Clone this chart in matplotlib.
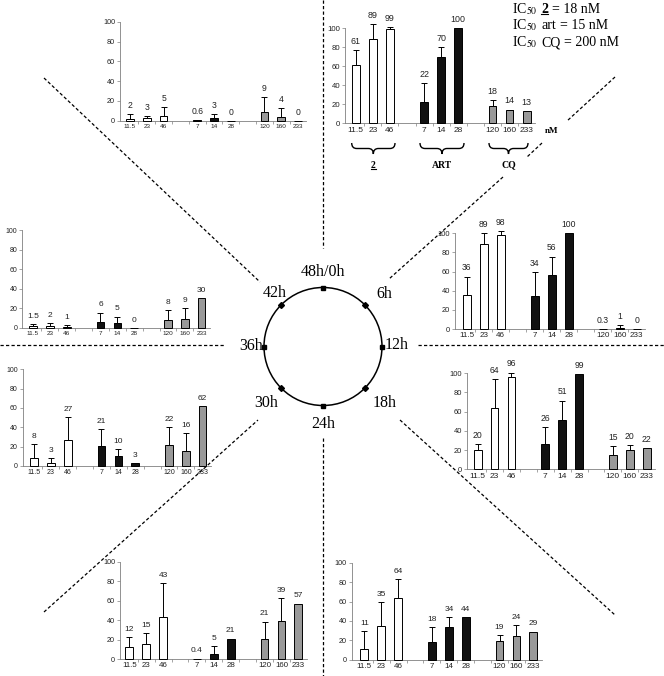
import numpy as np
import matplotlib
matplotlib.use('Agg')
import matplotlib.pyplot as plt
from matplotlib.path import Path
from matplotlib.patches import PathPatch, Circle

plt.rcParams['mathtext.fontset'] = 'stix'
SANS = 'Liberation Sans'
SERIF = 'Liberation Serif'

# ---------------- data ----------------
conc_labels = ['11.5', '23', '46', '7', '14', '28', '120', '160', '233']
drug_labels = ['2', 'ART', 'CQ']
bar_colors = ['white'] * 3 + ['#111111'] * 3 + ['#999999'] * 3

v_0h = [61, 89, 99, 22, 70, 100, 18, 14, 13]
e_0h = [16, 15.5, 2, 20, 10.6, 0, 6.5, 0.5, 0]
v_6h = [36, 89, 98, 34, 56, 100, 0.3, 1, 0]
e_6h = [18.7, 11, 4.4, 25.6, 19.6, 0, 0, 3, 0]
v_12h = [20, 64, 96, 26, 51, 99, 15, 20, 22]
e_12h = [6.4, 29.8, 4.7, 17.8, 20.5, 0, 9.3, 5.3, 0]
v_18h = [11, 35, 64, 18, 34, 44, 19, 24, 29]
e_18h = [18.9, 24.2, 18.9, 16, 10.3, 0, 6.5, 11.8, 0]
v_24h = [12, 15, 43, 0.4, 5, 21, 21, 39, 57]
e_24h = [10.9, 12, 34.8, 0, 8.7, 0, 17.4, 24, 0]
v_30h = [8, 3, 27, 21, 10, 3, 22, 16, 62]
e_30h = [14.8, 5, 23.3, 16.9, 7.2, 0, 18, 17.8, 0]
v_36h = [1.5, 2, 1, 6, 5, 0, 8, 9, 30]
e_36h = [2, 3, 2, 9.4, 6.3, 0, 10, 10.8, 0]
v_42h = [2, 3, 5, 0.6, 3, 0, 9, 4, 0]
e_42h = [4.8, 1.7, 8.5, 0, 3.8, 0, 15, 8.5, 0]

hour_labels = ['48h/0h', '6h', '12h', '18h', '24h', '30h', '36h', '42h']
ic50_lines = [('2', '= 18 nM'), ('art', '= 15 nM'), ('CQ', '= 200 nM')]

# ---------------- layout ----------------
W, H = 664, 676
fig = plt.figure(figsize=(W / 100, H / 100), dpi=100)
bg = fig.add_axes([0, 0, 1, 1], zorder=0)
bg.set_xlim(0, W)
bg.set_ylim(H, 0)
bg.axis('off')

positions = [0, 1, 2, 4, 5, 6, 8, 9, 10]

# axis_x, y100, y0, p0, spacing, xtick fs, ytick fs, value fs
specs = {
    '0h': (345, 28.3, 123.3, 355.7, 17.1, 6.0, 5.6, 6.4),
    '6h': (455, 233.3, 329, 466.7, 17.0, 5.8, 5.4, 6.2),
    '12h': (466.7, 373.3, 469.3, 477.7, 16.9, 6.0, 5.4, 6.2),
    '18h': (351.7, 562.7, 659.7, 364.3, 16.9, 5.8, 5.2, 6.0),
    '24h': (120, 561.7, 659, 129.3, 16.9, 5.7, 5.2, 6.0),
    '30h': (22.7, 369.3, 466, 34, 16.87, 5.0, 5.0, 6.0),
    '36h': (22, 230, 327.7, 33, 16.87, 4.6, 5.0, 6.0),
    '42h': (120, 21.7, 120.7, 130, 16.8, 4.6, 5.2, 6.2),
}
panel_data = {
    '0h': (v_0h, e_0h), '6h': (v_6h, e_6h), '12h': (v_12h, e_12h),
    '18h': (v_18h, e_18h), '24h': (v_24h, e_24h), '30h': (v_30h, e_30h),
    '36h': (v_36h, e_36h), '42h': (v_42h, e_42h),
}


def fmt(v):
    return str(int(v)) if float(v).is_integer() else str(v)


def draw_panel(vals, errs, spec):
    ax_x, y100, y0, p0, s, xfs, yfs, vfs = spec
    xl = (ax_x - p0) / s
    xr = 10.5
    ax = fig.add_axes([ax_x / W, 1 - y0 / H, (xr - xl) * s / W, (y0 - y100) / H], zorder=2)
    ax.patch.set_alpha(0)
    bars = ax.bar(positions, vals, width=0.45, color=bar_colors, edgecolor='black',
                  linewidth=0.7, zorder=3)
    for b in bars:
        b.set_clip_on(False)
    for x, v, e in zip(positions, vals, errs):
        if e > 0:
            eb = ax.errorbar(x, v, yerr=[[0], [e]], fmt='none', ecolor='black',
                             elinewidth=0.7, capsize=2.3, capthick=0.7, zorder=4)
            for art in eb.lines[1] + eb.lines[2]:
                art.set_clip_on(False)
        ax.annotate(fmt(v), (x, v + e), xytext=(0, 3.0), textcoords='offset points',
                    ha='center', va='bottom', fontsize=vfs, family=SANS,
                    color='#222222', annotation_clip=False)
    ax.set_xlim(xl, xr)
    ax.set_ylim(0, 100)
    for sp in ['top', 'right']:
        ax.spines[sp].set_visible(False)
    for sp in ['left', 'bottom']:
        ax.spines[sp].set_color('#808080')
        ax.spines[sp].set_linewidth(0.6)
    ax.set_yticks(np.arange(0, 101, 20))
    ax.set_xticks(positions)
    ax.set_xticklabels(conc_labels)
    ax.set_xticks([p + 0.5 for p in range(10)], minor=True)
    ax.tick_params(axis='y', length=2, width=0.5, color='#808080', pad=1.5,
                   labelsize=yfs)
    ax.tick_params(axis='x', which='major', length=0, pad=2.5, labelsize=xfs)
    ax.tick_params(axis='x', which='minor', length=2, width=0.5, color='#808080')
    for lab in ax.get_xticklabels() + ax.get_yticklabels():
        lab.set_family(SANS)
        lab.set_color('#222222')
    return ax


for key in specs:
    vals, errs = panel_data[key]
    draw_panel(vals, errs, specs[key])

# ---------------- dashed spokes ----------------
dash = dict(color='black', lw=0.9, linestyle=(0, (2.6, 1.8)), zorder=1)
spokes = [
    [(323, 0), (323, 248)],
    [(323, 438), (323, 676)],
    [(0, 345), (225, 345)],
    [(418, 345), (664, 345)],
    [(44, 78), (260, 282)],
    [(44, 612), (258, 420)],
    [(400, 420), (615, 615)],
    [(615, 77), (567, 121)],
    [(542, 143), (527, 157)],
    [(503, 177), (389, 279)],
]
for (x1, y1), (x2, y2) in spokes:
    bg.plot([x1, x2], [y1, y2], **dash)

# ---------------- clock ----------------
cx, cy, r = 323, 346.5, 59
bg.add_patch(Circle((cx, cy), r, fill=False, lw=1.1, color='black', zorder=3))
for k in range(8):
    ang = np.deg2rad(90 - 45 * k)
    mx, my = cx + r * np.cos(ang), cy - r * np.sin(ang)
    bg.plot(mx, my, marker='s' if k % 2 == 0 else 'D', ms=3.2 if k % 2 == 0 else 3.0,
            color='black', zorder=4)

label_pos = [(323, 272.5, 'center'), (376, 294.5, 'left'), (385, 345, 'left'),
             (373, 403, 'left'), (323, 424, 'center'), (278, 403, 'right'),
             (263, 346, 'right'), (287, 293, 'right')]
for txt, (x, y, ha) in zip(hour_labels, label_pos):
    bg.text(x, y, txt, ha=ha, va='center', fontsize=11.5, family=SERIF)

# ---------------- braces and group labels ----------------
def brace(x1, x2, ytop, ymid, ytip, rr=5):
    xm = (x1 + x2) / 2
    verts = [(x1, ytop), (x1, ymid), (x1 + rr, ymid), (xm - rr, ymid),
             (xm, ymid), (xm, ytip), (xm, ymid), (xm + rr, ymid),
             (x2 - rr, ymid), (x2, ymid), (x2, ytop)]
    codes = [Path.MOVETO, Path.CURVE3, Path.CURVE3, Path.LINETO,
             Path.CURVE3, Path.CURVE3, Path.CURVE3, Path.CURVE3,
             Path.LINETO, Path.CURVE3, Path.CURVE3]
    bg.add_patch(PathPatch(Path(verts, codes), fill=False, lw=1.0, color='black'))


brace_spans = [(351.7, 395), (420, 464), (489, 528)]
for (x1, x2), lab in zip(brace_spans, drug_labels):
    brace(x1, x2, 143, 148.5, 154)
group_texts = []
for (x1, x2), lab in zip(brace_spans, drug_labels):
    t = bg.text((x1 + x2) / 2, 165, lab, ha='center', va='center', fontsize=7,
                family=SERIF, weight='bold')
    group_texts.append(t)

bg.text(552, 131, 'nM', ha='center', va='center', fontsize=6.5, family=SERIF,
        weight='bold')

# ---------------- IC50 text ----------------
ic_texts = []
for i, (drug, rest) in enumerate(ic50_lines):
    b = 12.7 + 16.7 * i
    t1 = bg.text(512, b, 'IC$_{50}$', ha='left', va='baseline', fontsize=10,
                 family=SERIF)
    t2 = bg.annotate(drug, xy=(1, b), xycoords=(t1, 'data'), xytext=(2.6, 0),
                     textcoords='offset points', ha='left', va='baseline',
                     fontsize=10, family=SERIF,
                     weight='bold' if drug == '2' else 'normal')
    bg.annotate(rest, xy=(1, b), xycoords=(t2, 'data'), xytext=(2.6, 0),
                textcoords='offset points', ha='left', va='baseline',
                fontsize=10, family=SERIF)
    if drug == '2':
        ic_texts.append(t2)

# underlines for compound "2"
fig.canvas.draw()
rend = fig.canvas.get_renderer()
inv = bg.transData.inverted()
for t, dy in [(ic_texts[0], 1.5), (group_texts[0], 1.0)]:
    bb = t.get_window_extent(rend)
    (xa, ya), (xb, yb) = inv.transform([(bb.x0, bb.y0), (bb.x1, bb.y0)])
    bg.plot([xa, xb], [ya - dy, yb - dy], color='black', lw=0.8)

fig.savefig('out.png', dpi=100)
